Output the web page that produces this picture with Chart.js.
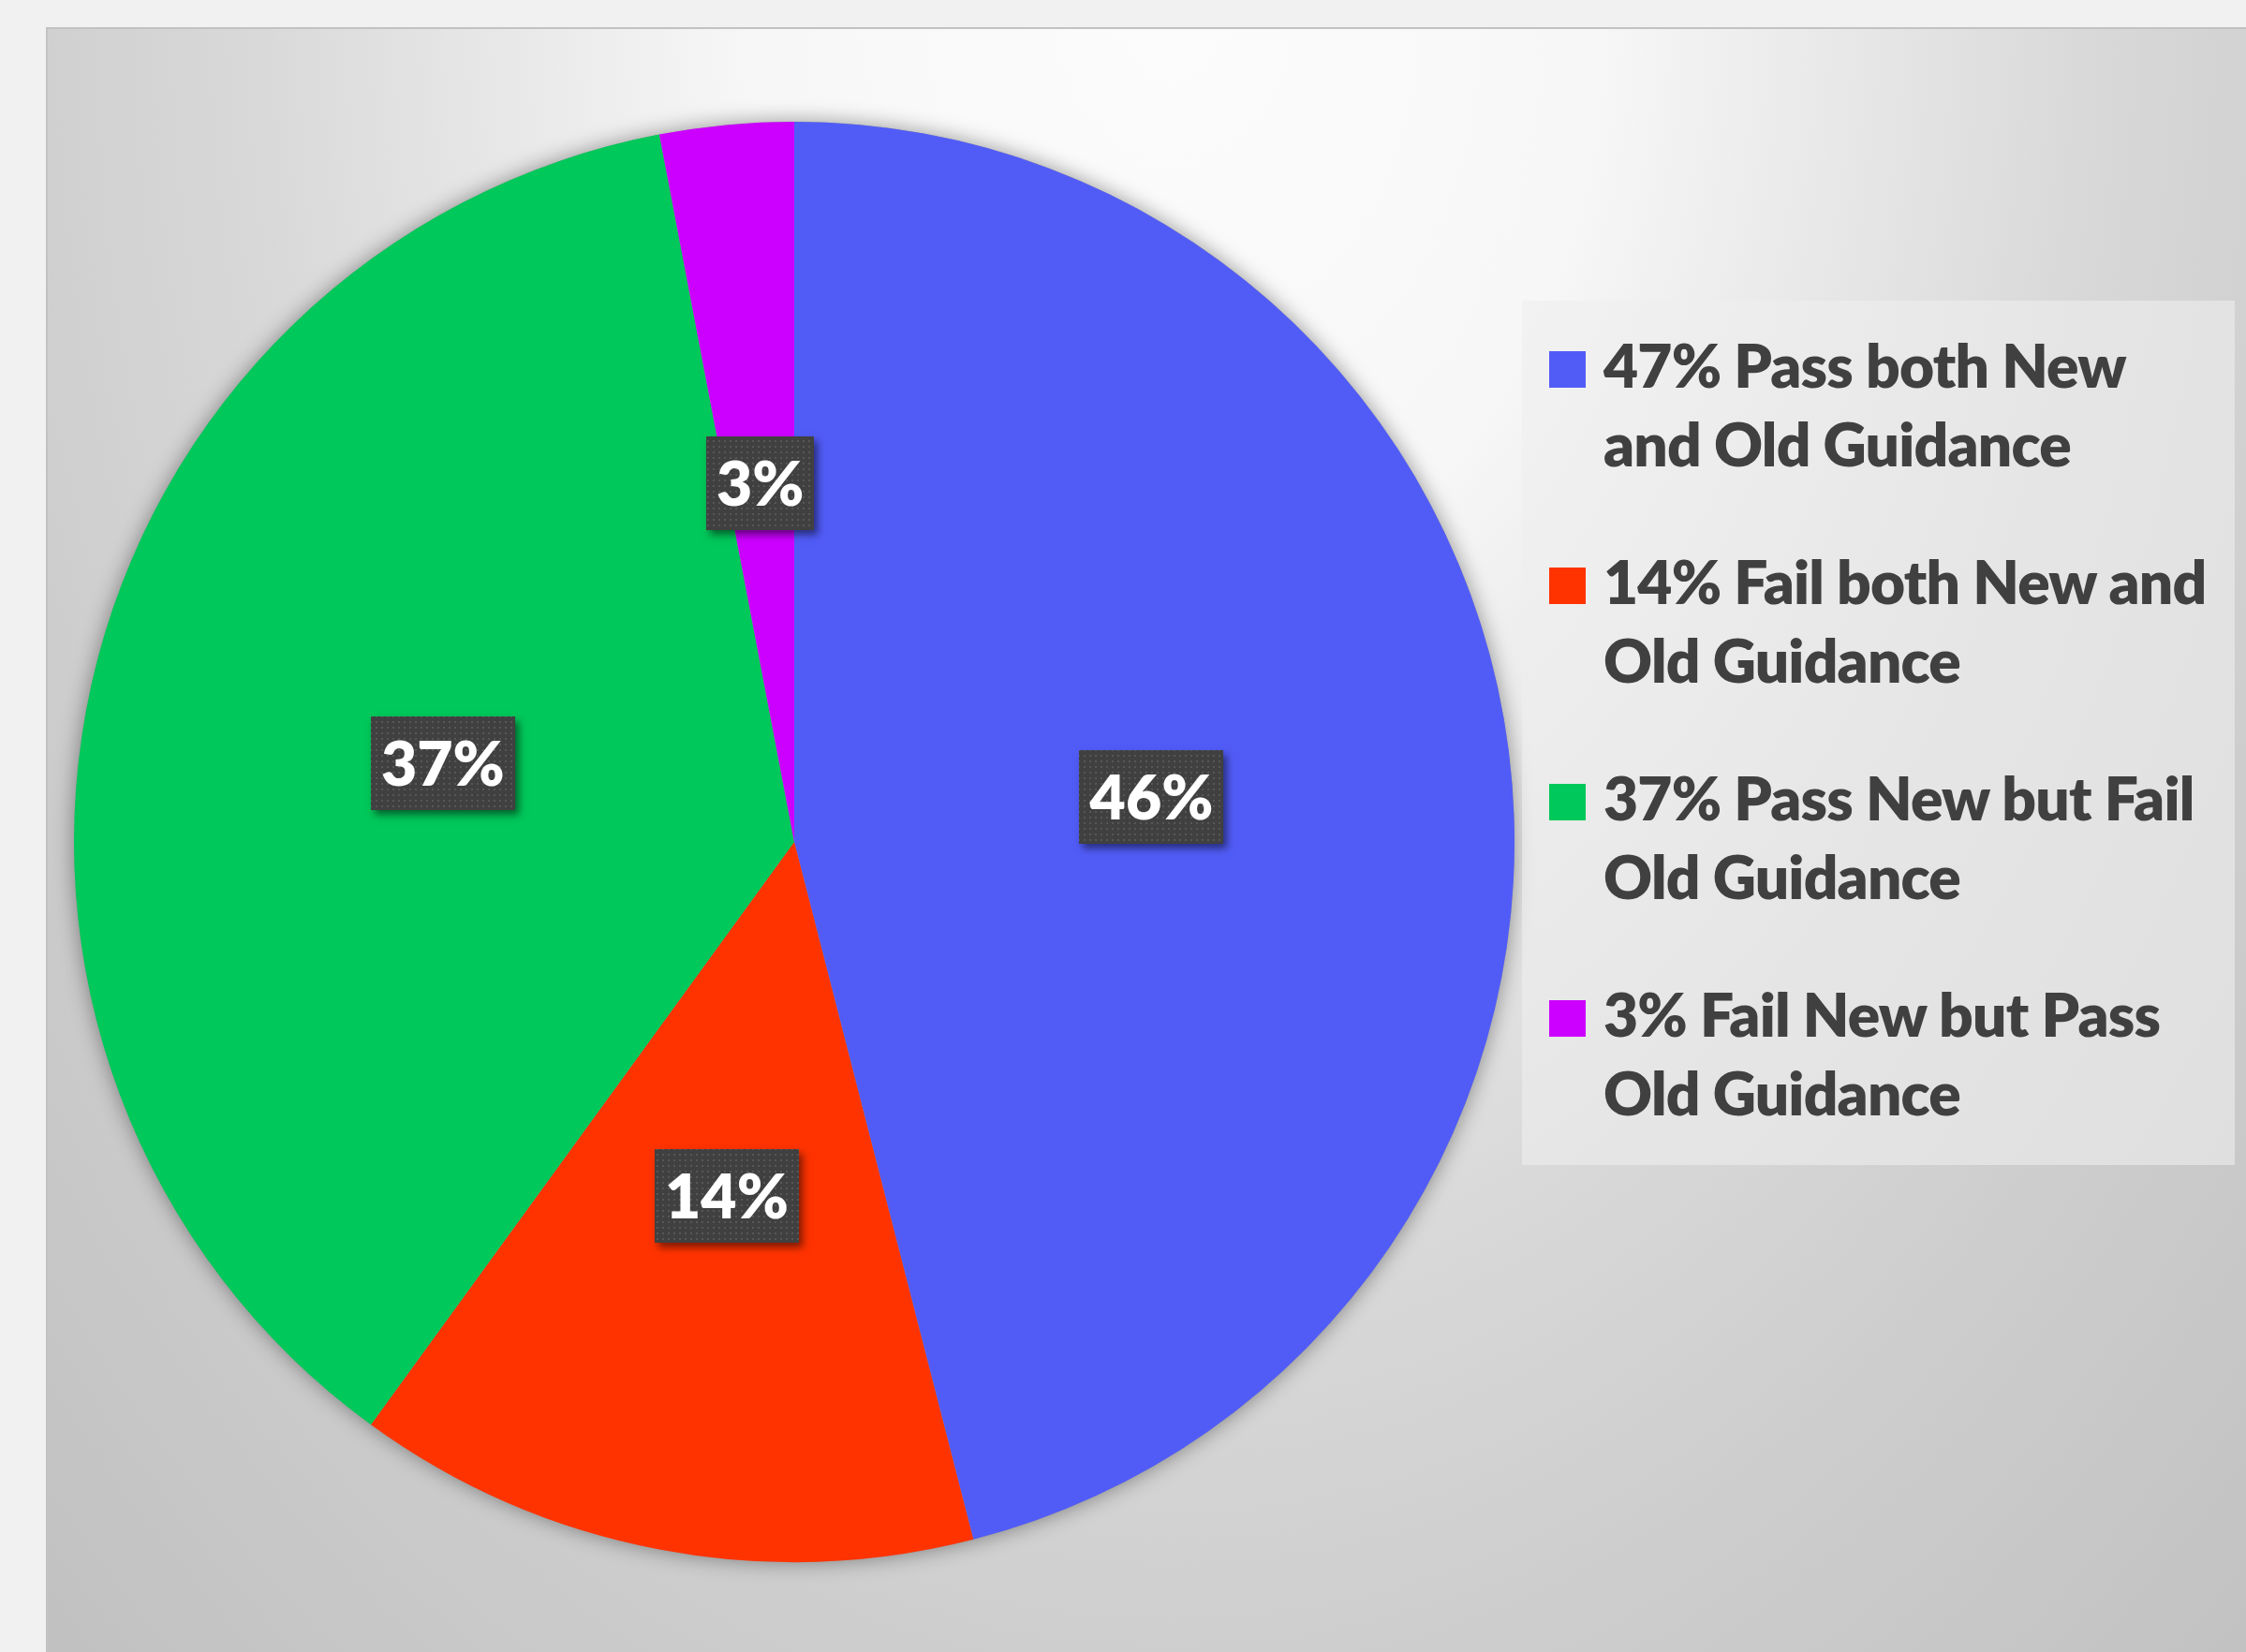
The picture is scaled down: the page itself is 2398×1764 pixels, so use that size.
<!DOCTYPE html>
<html>
<head>
<meta charset="utf-8">
<title>Guidance pass / fail</title>
<script src="https://cdn.jsdelivr.net/npm/chart.js@4.4.1/dist/chart.umd.min.js"></script>
<style>
  html, body { margin: 0; padding: 0; }
  body { width: 2398px; height: 1764px; background: #f1f1f1; position: relative; overflow: hidden; font-family: Lato, sans-serif; }
  #frame {
    position: absolute; left: 49px; top: 29px; right: 0; bottom: 0;
    border-top: 2px solid #c2c2c2; border-left: 2px solid #c2c2c2;
    background: radial-gradient(ellipse 1500px 2100px at 1201px -29px,
      #fcfcfc 0%, #f7f7f7 30%, #d8d8d8 66%, #cdcdcd 86%, #c1c1c1 115%);
  }
  #chartBox { position: absolute; left: 39px; top: 90px; width: 1618px; height: 1618px; }
  #legend {
    position: absolute; left: 1625px; top: 321px; width: 761px; height: 923px;
    background: rgba(238, 238, 238, 0.6); box-sizing: border-box; padding-top: 27px;
  }
  .item { position: relative; margin-bottom: 63px; padding-left: 87px; color: #404040; font-weight: 800; font-size: 64px; letter-spacing: -0.8px; line-height: 84px; white-space: nowrap; }
  .swatch { position: absolute; left: 29px; top: 27px; width: 39px; height: 39px; }
</style>
</head>
<body>
<div id="frame"></div>
<div id="chartBox"><canvas id="pie"></canvas></div>
<div id="legend"></div>

<script>
// slices, clockwise from 12 o'clock
const categories = [
  ['47% Pass both New', 'and Old Guidance'],
  ['14% Fail both New and', 'Old Guidance'],
  ['37% Pass New but Fail', 'Old Guidance'],
  ['3% Fail New but Pass', 'Old Guidance']
];
const shares = [46, 14, 37, 3];
const sliceColors = ['#515CF7', '#FF3300', '#00C85A', '#CC00FF'];

const labelFont = '800 66px Lato';

// dotted fill for the value boxes
function dotPattern(ctx) {
  const c = document.createElement('canvas');
  c.width = 6; c.height = 6;
  const g = c.getContext('2d');
  g.fillStyle = '#404040';
  g.fillRect(0, 0, 6, 6);
  g.fillStyle = '#575757';
  g.fillRect(2, 2, 2, 2);
  return ctx.createPattern(c, 'repeat');
}

// soft shadow under the whole pie
const pieShadow = {
  id: 'pieShadow',
  beforeDatasetsDraw(chart) {
    const arc = chart.getDatasetMeta(0).data[0];
    if (!arc) return;
    const ctx = chart.ctx;
    ctx.save();
    ctx.beginPath();
    ctx.arc(arc.x, arc.y, arc.outerRadius, 0, Math.PI * 2);
    ctx.shadowColor = 'rgba(0, 0, 0, 0.4)';
    ctx.shadowBlur = 22;
    ctx.fillStyle = '#999';
    ctx.fill();
    ctx.restore();
  }
};

// percentage in a dark box at the middle of each slice
const boxLabels = {
  id: 'boxLabels',
  afterDatasetsDraw(chart) {
    const ctx = chart.ctx;
    const meta = chart.getDatasetMeta(0);
    const dots = dotPattern(ctx);
    ctx.save();
    ctx.font = labelFont;
    ctx.textAlign = 'center';
    meta.data.forEach((arc, i) => {
      const p = arc.tooltipPosition();
      const text = shares[i] + '%';
      const w = Math.round(ctx.measureText(text).width + 22);
      const h = 100;
      const x = Math.round(p.x - w / 2);
      const y = Math.round(p.y - h / 2);

      ctx.shadowColor = 'rgba(0, 0, 0, 0.5)';
      ctx.shadowBlur = 8;
      ctx.shadowOffsetX = 4;
      ctx.shadowOffsetY = 5;
      ctx.fillStyle = '#404040';
      ctx.fillRect(x, y, w, h);

      ctx.shadowColor = 'transparent';
      ctx.fillStyle = dots;
      ctx.fillRect(x, y, w, h);

      ctx.fillStyle = '#ffffff';
      ctx.fillText(text, p.x, y + h / 2 + 24);
    });
    ctx.restore();
  }
};

const chart = new Chart(document.getElementById('pie'), {
  type: 'pie',
  data: {
    labels: categories,
    datasets: [{
      data: shares,
      backgroundColor: sliceColors,
      borderWidth: 0,
      hoverOffset: 0
    }]
  },
  options: {
    responsive: true,
    maintainAspectRatio: false,
    animation: false,
    events: [],
    layout: { padding: 40 },
    plugins: {
      legend: { display: false },
      tooltip: { enabled: false }
    }
  },
  plugins: [pieShadow, boxLabels]
});

// legend on the right, two lines per entry
const legendEl = document.getElementById('legend');
chart.data.labels.forEach((lines, i) => {
  const item = document.createElement('div');
  item.className = 'item';
  const sw = document.createElement('span');
  sw.className = 'swatch';
  sw.style.background = chart.data.datasets[0].backgroundColor[i];
  item.appendChild(sw);
  lines.forEach((line, k) => {
    if (k > 0) item.appendChild(document.createElement('br'));
    item.appendChild(document.createTextNode(line));
  });
  legendEl.appendChild(item);
});
</script>
</body>
</html>
